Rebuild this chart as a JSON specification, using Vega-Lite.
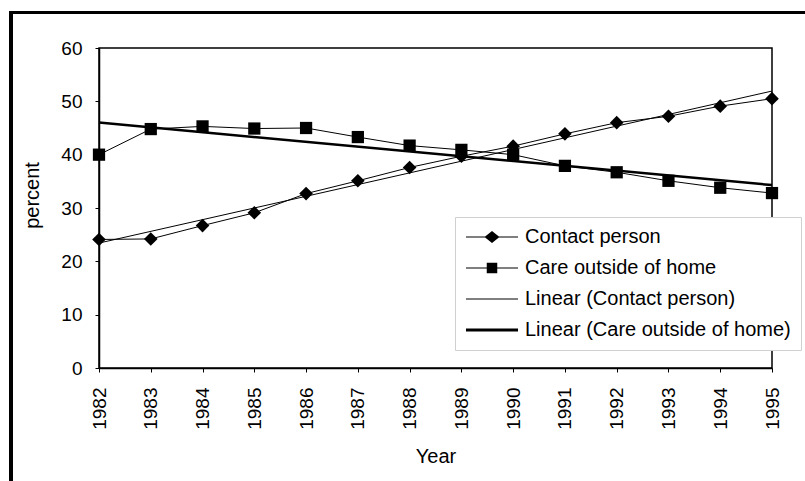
{
  "$schema": "https://vega.github.io/schema/vega-lite/v6.json",
  "width": 673,
  "height": 320,
  "autosize": {"type": "none"},
  "padding": {"left": 99, "top": 48, "right": 33, "bottom": 113},
  "background": "white",
  "data": {
    "values": [
      {"year": 1982, "series": "Contact person", "value": 24.1},
      {"year": 1983, "series": "Contact person", "value": 24.2},
      {"year": 1984, "series": "Contact person", "value": 26.7},
      {"year": 1985, "series": "Contact person", "value": 29.1},
      {"year": 1986, "series": "Contact person", "value": 32.7},
      {"year": 1987, "series": "Contact person", "value": 35.1},
      {"year": 1988, "series": "Contact person", "value": 37.6},
      {"year": 1989, "series": "Contact person", "value": 39.7},
      {"year": 1990, "series": "Contact person", "value": 41.6},
      {"year": 1991, "series": "Contact person", "value": 43.9},
      {"year": 1992, "series": "Contact person", "value": 46.0},
      {"year": 1993, "series": "Contact person", "value": 47.2},
      {"year": 1994, "series": "Contact person", "value": 49.1},
      {"year": 1995, "series": "Contact person", "value": 50.5},
      {"year": 1982, "series": "Care outside of home", "value": 40.0},
      {"year": 1983, "series": "Care outside of home", "value": 44.8},
      {"year": 1984, "series": "Care outside of home", "value": 45.3},
      {"year": 1985, "series": "Care outside of home", "value": 44.9},
      {"year": 1986, "series": "Care outside of home", "value": 45.0},
      {"year": 1987, "series": "Care outside of home", "value": 43.3},
      {"year": 1988, "series": "Care outside of home", "value": 41.7},
      {"year": 1989, "series": "Care outside of home", "value": 40.9},
      {"year": 1990, "series": "Care outside of home", "value": 40.0},
      {"year": 1991, "series": "Care outside of home", "value": 37.9},
      {"year": 1992, "series": "Care outside of home", "value": 36.7},
      {"year": 1993, "series": "Care outside of home", "value": 35.1},
      {"year": 1994, "series": "Care outside of home", "value": 33.8},
      {"year": 1995, "series": "Care outside of home", "value": 32.8}
    ]
  },
  "encoding": {
    "x": {
      "field": "year", "type": "quantitative",
      "scale": {"domain": [1982, 1995], "zero": false, "nice": false},
      "axis": {
        "title": "Year",
        "values": [1982, 1983, 1984, 1985, 1986, 1987, 1988, 1989, 1990, 1991, 1992, 1993, 1994, 1995],
        "format": "d",
        "labelAngle": -90,
        "labelFontSize": 19,
        "labelPadding": 15,
        "tickSize": 4,
        "titleFontSize": 20,
        "titlePadding": 17,
        "grid": false
      }
    },
    "y": {
      "field": "value", "type": "quantitative",
      "scale": {"domain": [0, 60], "nice": false},
      "axis": {
        "title": "percent",
        "values": [0, 10, 20, 30, 40, 50, 60],
        "labelFontSize": 19,
        "labelPadding": 13,
        "tickSize": 4,
        "titleFontSize": 20,
        "titlePadding": 18,
        "titleY": 147,
        "grid": false
      }
    }
  },
  "layer": [
    {
      "mark": {"type": "rect", "fillOpacity": 0, "stroke": "black", "strokeWidth": 2.5, "clip": false},
      "encoding": {
        "x": {"datum": 1980.3, "type": "quantitative"},
        "x2": {"datum": 1997.5},
        "y": {"datum": 66.6, "type": "quantitative"},
        "y2": {"datum": -30}
      }
    },
    {
      "mark": {"type": "line", "color": "black", "strokeWidth": 1},
      "encoding": {"detail": {"field": "series"}}
    },
    {
      "transform": [{"regression": "value", "on": "year", "groupby": ["series"]}],
      "mark": {"type": "line", "color": "black"},
      "encoding": {
        "detail": {"field": "series"},
        "strokeWidth": {"condition": {"test": "datum.series === 'Care outside of home'", "value": 2.5}, "value": 1}
      }
    },
    {
      "mark": {"type": "point", "filled": true, "color": "black", "opacity": 1},
      "encoding": {
        "shape": {
          "field": "series",
          "scale": {"domain": ["Contact person", "Care outside of home"], "range": ["diamond", "square"]},
          "legend": null
        },
        "size": {"condition": {"test": "datum.series === 'Contact person'", "value": 185}, "value": 150}
      }
    },
    {
      "transform": [{"filter": "false"}],
      "mark": {"type": "point", "filled": true, "color": "black", "opacity": 1},
      "encoding": {
        "shape": {
          "field": "series",
          "scale": {
            "domain": ["Contact person", "Care outside of home", "Linear (Contact person)", "Linear (Care outside of home)"],
            "range": [
              "M-3.47,-0.067H3.47V0.067H-3.47Z M0,-0.8L1,0L0,0.8L-1,0Z",
              "M-3.47,-0.067H3.47V0.067H-3.47Z M-0.7,-0.7H0.7V0.7H-0.7Z",
              "M-3.47,-0.067H3.47V0.067H-3.47Z",
              "M-3.47,-0.2H3.47V0.2H-3.47Z"
            ]
          },
          "legend": {
            "title": null,
            "orient": "none",
            "legendX": 356,
            "legendY": 169,
            "fillColor": "white",
            "strokeColor": "#d0d0d0",
            "padding": 10,
            "labelFont": "Liberation Sans",
            "labelFontSize": 20,
            "labelColor": "black",
            "labelLimit": 500,
            "symbolSize": 225,
            "symbolOffset": 17,
            "labelOffset": 23,
            "rowPadding": 11,
            "symbolStrokeWidth": 0,
            "symbolFillColor": "black",
            "encode": {
              "symbols": {
                "update": {
                  "fill": {"value": "black"},
                  "opacity": {"value": 1},
                  "size": {"value": 225}
                }
              }
            }
          }
        }
      }
    }
  ],
  "resolve": {"scale": {"shape": "independent"}},
  "config": {
    "font": "Liberation Sans",
    "view": {"stroke": "black", "strokeWidth": 1.5},
    "axis": {
      "domainColor": "black",
      "domainWidth": 1.5,
      "tickColor": "black",
      "labelColor": "black",
      "titleColor": "black",
      "titleFontWeight": "normal",
      "labelFont": "Liberation Sans",
      "titleFont": "Liberation Sans"
    }
  }
}
